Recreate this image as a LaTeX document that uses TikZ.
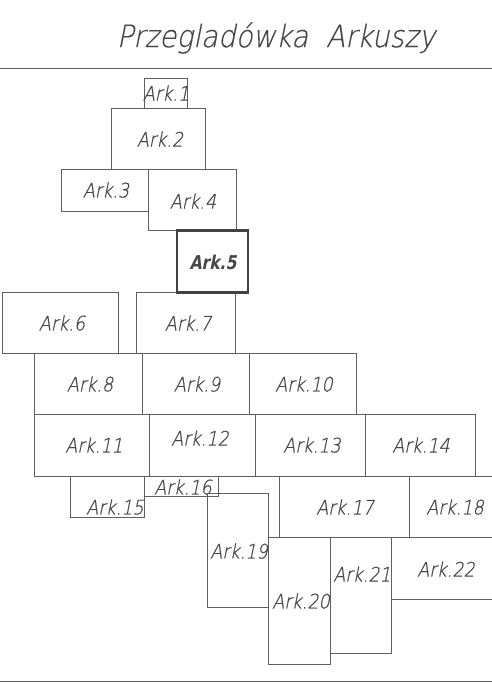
\documentclass[tikz,border=0pt]{standalone}
\usepackage{fontspec}
\usepackage{tikz}
\newfontfamily\isofont[FakeSlant=0.2,FakeStretch=0.88,FakeBold=0.6]{DejaVu Sans ExtraLight}
\newfontfamily\isothin[FakeSlant=0.2,FakeStretch=0.9,FakeBold=0.3]{DejaVu Sans ExtraLight}
\newfontfamily\isobold[FakeSlant=0.2,FakeStretch=0.82]{DejaVu Sans Bold}
\definecolor{sheetgray}{RGB}{95,95,95}
\definecolor{textgray}{RGB}{70,70,70}

\begin{document}
\begin{tikzpicture}[x=1pt, y=-1pt,
    sheet/.style={draw=sheetgray, line width=0.9pt},
    current/.style={draw=sheetgray!70!black, line width=2.4pt},
    frameline/.style={draw=sheetgray, line width=1pt},
    sheetname/.style={text=textgray, inner sep=0pt, font=\isofont\fontsize{20}{20}\selectfont},
    currentname/.style={text=textgray, inner sep=0pt, font=\isobold\fontsize{19}{19}\selectfont},
    title/.style={text=textgray, inner sep=0pt, font=\isothin\fontsize{31}{31}\selectfont}]

    \clip (0,0) rectangle (492,685);

    % title and frame
    \node[title] (title) at (276,38) {Przegladówka~ Arkuszy};
    \draw[frameline] (0,68.3) -- (492,68.3);
    \draw[frameline] (0,681.7) -- (492,681.7);

    % sheets
    \draw[sheet] (144.7,78.7) rectangle (187,108);
    \draw[sheet] (111.3,108) rectangle (205,169.3);
    \draw[sheet] (61.3,169.3) rectangle (148.7,211);
    \draw[sheet] (148.7,169.3) rectangle (236,230.7);
    \draw[sheet] (2.7,292) rectangle (118,353.3);
    \draw[sheet] (136.7,292) rectangle (235.7,353.3);
    \draw[sheet] (34.7,353.3) rectangle (142,414.7);
    \draw[sheet] (142,353.3) rectangle (249.3,414.7);
    \draw[sheet] (249.3,353.3) rectangle (356.7,414.7);
    \draw[sheet] (34.7,414.7) rectangle (149,476);
    \draw[sheet] (149,414.7) rectangle (255,476);
    \draw[sheet] (255,414.7) rectangle (365.3,476);
    \draw[sheet] (365.3,414.7) rectangle (475.7,476);
    \draw[sheet] (70.3,476) rectangle (144.7,517.7);
    \draw[sheet] (144.7,476) rectangle (218.3,496.7);
    \draw[sheet] (279.3,476) rectangle (409,537.7);
    \draw[sheet] (409,476) rectangle (500,537.7);
    \draw[sheet] (207.3,493) rectangle (268.7,607);
    \draw[sheet] (268.7,537.7) rectangle (330.3,664.3);
    \draw[sheet] (330.3,537.7) rectangle (391.7,653.7);
    \draw[sheet] (391.7,537.7) rectangle (500,599.3);
    \draw[current] (177,230.5) rectangle (247.7,292.3);

    % sheet names
    \node[sheetname] (ark1) at (166,93) {Ark.1};
    \node[sheetname] (ark2) at (160,139) {Ark.2};
    \node[sheetname] (ark3) at (106,190) {Ark.3};
    \node[sheetname] (ark4) at (193,201) {Ark.4};
    \node[currentname] (ark5) at (213,262) {Ark.5};
    \node[sheetname] (ark6) at (62,323) {Ark.6};
    \node[sheetname] (ark7) at (188,323) {Ark.7};
    \node[sheetname] (ark8) at (90,384) {Ark.8};
    \node[sheetname] (ark9) at (197,384) {Ark.9};
    \node[sheetname] (ark10) at (304,384) {Ark.10};
    \node[sheetname] (ark11) at (94,445) {Ark.11};
    \node[sheetname] (ark12) at (200,438) {Ark.12};
    \node[sheetname] (ark13) at (312,445) {Ark.13};
    \node[sheetname] (ark14) at (421,445) {Ark.14};
    \node[sheetname] (ark15) at (115,507) {Ark.15};
    \node[sheetname] (ark16) at (183,487) {Ark.16};
    \node[sheetname] (ark17) at (345,507) {Ark.17};
    \node[sheetname] (ark18) at (455,507) {Ark.18};
    \node[sheetname] (ark19) at (239,551) {Ark.19};
    \node[sheetname] (ark20) at (301,601) {Ark.20};
    \node[sheetname] (ark21) at (362,574) {Ark.21};
    \node[sheetname] (ark22) at (446,569) {Ark.22};
\end{tikzpicture}
\end{document}
